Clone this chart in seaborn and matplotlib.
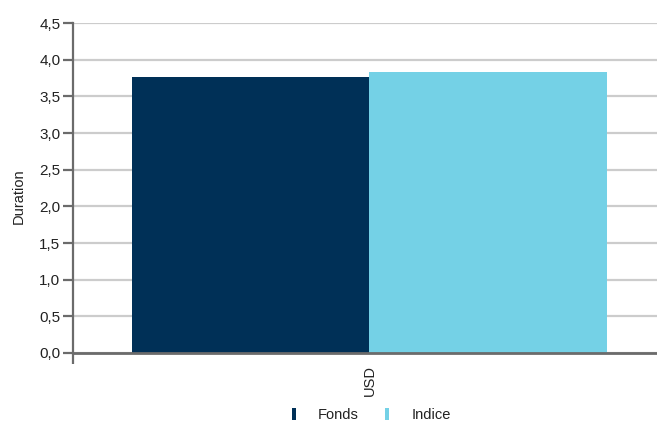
import pandas as pd
import matplotlib
matplotlib.use('Agg')
import matplotlib.pyplot as plt
import seaborn as sns
from matplotlib.patches import Patch
from matplotlib.ticker import FuncFormatter

# --- data ---
categories = ['USD']
series_names = ['Fonds', 'Indice']
fonds_values = [3.77]
indice_values = [3.83]
colors = ['#003057', '#74D1E6']

df = pd.DataFrame({
    'Devise': categories * 2,
    'Serie': [series_names[0]] * len(categories) + [series_names[1]] * len(categories),
    'Duration': fonds_values + indice_values,
})

sns.set_style('white')
plt.rcParams['font.family'] = ['Liberation Sans', 'DejaVu Sans']

fig = plt.figure(figsize=(6.57, 4.23), dpi=100)
ax = fig.add_axes([0.1111, 0.1655, 0.9026, 0.780])

sns.barplot(data=df, x='Devise', y='Duration', hue='Serie', palette=colors,
            width=0.8, gap=0, saturation=1, linewidth=0, ax=ax, legend=False, zorder=3)

ax.set_xlim(-0.5, 0.5)
ax.set_ylim(0, 4.5)
ax.set_yticks([i * 0.5 for i in range(10)])
ax.yaxis.set_major_formatter(FuncFormatter(lambda v, p: f'{v:.1f}'.replace('.', ',')))
ax.grid(axis='y', color='#cccccc', linewidth=1.6, zorder=0)
ax.set_axisbelow(True)

for s in ['top', 'right']:
    ax.spines[s].set_visible(False)
ax.spines['left'].set_color('#6b6b6b')
ax.spines['left'].set_linewidth(1.6)
ax.spines['bottom'].set_color('#6b6b6b')
ax.spines['bottom'].set_linewidth(2)
ax.spines['bottom'].set_zorder(4)

ax.tick_params(axis='y', which='major', direction='out', length=7, width=1.6,
               color='#6b6b6b', labelsize=11, labelcolor='#222222', left=True, pad=2)
ax.tick_params(axis='x', which='major', length=0, labelsize=10.5, labelcolor='#222222',
               labelrotation=90, pad=9)
ax.set_xticks([-0.5], minor=True)
ax.tick_params(axis='x', which='minor', direction='out', length=8, width=1.6,
               color='#6b6b6b', bottom=True)

ax.set_xlabel('')
ax.set_ylabel('Duration', fontsize=10.5, color='#222222')
ax.yaxis.set_label_coords(-0.08, 0.475)

handles = [Patch(facecolor=c, edgecolor='none', label=n) for c, n in zip(colors, series_names)]
fig.legend(handles=handles, loc='lower center', bbox_to_anchor=(0.565, -0.028), ncol=2,
           frameon=False, fontsize=10.5, handlelength=0.3, handleheight=0.9,
           handletextpad=1.5, columnspacing=1.8, labelcolor='#222222')

fig.savefig('out.png', dpi=100)
